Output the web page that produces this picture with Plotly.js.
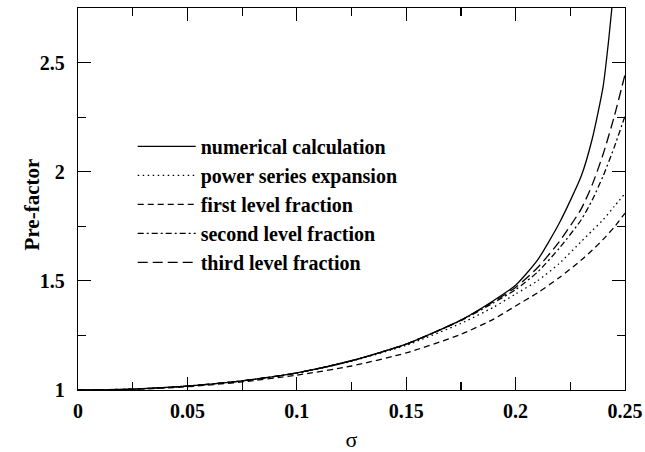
<!DOCTYPE html>
<html>
<head>
<meta charset="utf-8">
<script src="https://cdn.plot.ly/plotly-3.0.1.min.js"></script>
<style>html,body{margin:0;padding:0;background:#fff;}#chart{width:645px;height:452px;}</style>
</head>
<body>
<div id="chart"></div>
<script>
// sigma values
var sigma = [0, 0.025, 0.05, 0.075, 0.1, 0.125, 0.15, 0.175, 0.19, 0.2, 0.21, 0.22, 0.23, 0.235, 0.24, 0.245, 0.25];
// numerical calculation (diverges above the top of the frame)
var sigmaNum = [0, 0.025, 0.05, 0.075, 0.1, 0.125, 0.15, 0.175, 0.19, 0.2, 0.21, 0.22, 0.23, 0.235, 0.24, 0.2425, 0.245];
var numerical = [1.0, 1.004, 1.018, 1.042, 1.078, 1.134, 1.21, 1.32, 1.41, 1.48, 1.595, 1.765, 1.98, 2.15, 2.39, 2.6, 2.85];
var powerSeries = [1.0, 1.004, 1.018, 1.042, 1.077, 1.132, 1.205, 1.305, 1.38, 1.44, 1.5, 1.58, 1.68, 1.73, 1.78, 1.84, 1.90];
var firstLevel = [1.0, 1.003, 1.015, 1.037, 1.068, 1.11, 1.17, 1.255, 1.325, 1.385, 1.445, 1.515, 1.595, 1.64, 1.69, 1.745, 1.81];
var secondLevel = [1.0, 1.004, 1.018, 1.042, 1.078, 1.134, 1.21, 1.318, 1.40, 1.46, 1.54, 1.65, 1.78, 1.87, 1.98, 2.11, 2.255];
var thirdLevel = [1.0, 1.004, 1.018, 1.042, 1.078, 1.134, 1.21, 1.32, 1.405, 1.47, 1.56, 1.68, 1.83, 1.94, 2.08, 2.25, 2.445];
var seriesNames = ["numerical calculation", "power series expansion", "first level fraction", "second level fraction", "third level fraction"];
var xTitle = 'σ';
var yTitle = 'Pre-factor';

var serif = '"Liberation Serif", "Times New Roman", serif';
var lw = 1.3;
function tr(x, y, name, dash, grp) {
  return {x: x, y: y, name: name, type: 'scatter', mode: 'lines', line: {color: '#000', width: lw, dash: dash, shape: 'spline', smoothing: 0.6}, legendgroup: grp};
}
var data = [
  tr(sigmaNum, numerical, seriesNames[0], 'solid', 'g1'),
  tr(sigma, powerSeries, seriesNames[1], '1.5px,3.5px', 'g2'),
  tr(sigma, firstLevel, seriesNames[2], '6px,4px', 'g3'),
  tr(sigma, secondLevel, seriesNames[3], '6px,3px,2px,3px', 'g4'),
  tr(sigma, thirdLevel, seriesNames[4], '10px,5px', 'g5')
];
var tickFont = {family: serif, size: 20, color: '#000', weight: 700};
var layout = {
  width: 645, height: 452,
  margin: {l: 78, r: 20, t: 8, b: 62},
  paper_bgcolor: '#fff', plot_bgcolor: '#fff',
  showlegend: true,
  legend: {x: 0.1, y: 0.689, xanchor: 'left', yanchor: 'top', bgcolor: 'rgba(0,0,0,0)',
    font: {family: serif, size: 20, color: '#000', weight: 700},
    traceorder: 'grouped', tracegroupgap: 0, itemwidth: 58},
  xaxis: {range: [0, 0.25], dtick: 0.05, tick0: 0, ticks: 'inside', ticklen: 13, tickwidth: 1.2, tickcolor: '#000',
    showline: true, linecolor: '#000', linewidth: 1.3, mirror: 'ticks', showgrid: false, zeroline: false,
    tickfont: tickFont, ticklabelstandoff: 3,
    minor: {dtick: 0.025, ticks: 'inside', ticklen: 8, tickwidth: 1.2, tickcolor: '#000', showgrid: false},
    title: {text: xTitle, font: {family: serif, size: 22, color: '#000'}, standoff: 10}},
  yaxis: {range: [1, 2.75], dtick: 0.5, tick0: 1, ticks: 'inside', ticklen: 13, tickwidth: 1.2, tickcolor: '#000',
    showline: true, linecolor: '#000', linewidth: 1.3, mirror: 'ticks', showgrid: false, zeroline: false,
    tickfont: tickFont, ticklabelstandoff: 8,
    minor: {dtick: 0.25, ticks: 'inside', ticklen: 8, tickwidth: 1.2, tickcolor: '#000', showgrid: false}},
  annotations: [{text: yTitle, xref: 'paper', yref: 'paper', x: -0.084, y: 0.486, xanchor: 'center', yanchor: 'middle',
    textangle: -90, showarrow: false, font: {family: serif, size: 21, color: '#000', weight: 700}}]
};
Plotly.newPlot('chart', data, layout, {displayModeBar: false, staticPlot: true});
</script>
</body>
</html>
